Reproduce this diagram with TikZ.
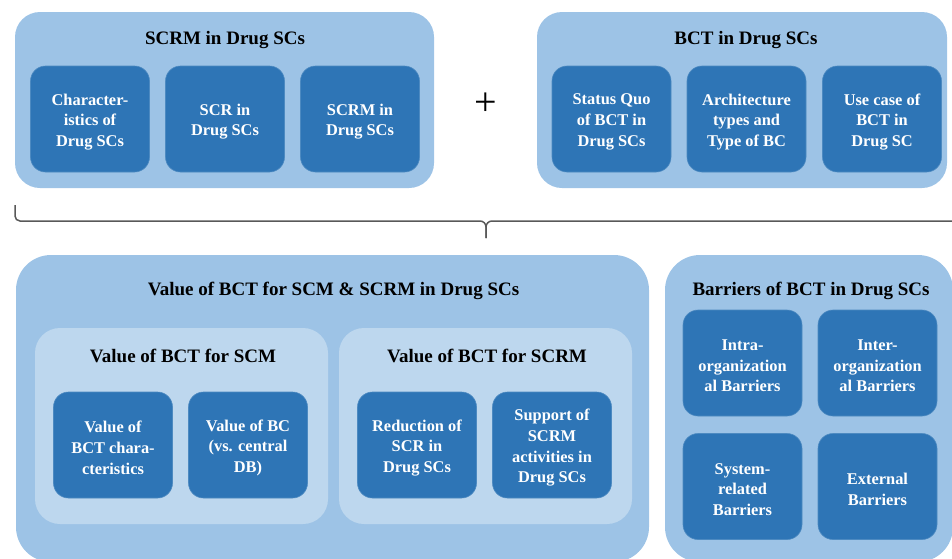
\documentclass[tikz,border=0pt]{standalone}
\usepackage{fontspec}
\setmainfont{Liberation Serif}
\definecolor{outerblue}{HTML}{9DC3E6}
\definecolor{innerblue}{HTML}{BDD7EE}
\definecolor{boxblue}{HTML}{2E75B6}
\definecolor{bracegray}{HTML}{595959}
\begin{document}
\begin{tikzpicture}[x=1pt,y=-1pt,
  panel/.style={fill=outerblue, rounded corners=25pt, inner sep=0pt},
  bigpanel/.style={panel, rounded corners=35pt},
  subpanel/.style={fill=innerblue, rounded corners=25pt, inner sep=0pt},
  item/.style={fill=boxblue, draw=boxblue!85!white, line width=0.6pt,
    rounded corners=15pt, inner sep=0pt, minimum width=119pt, minimum height=106pt},
  itemtext/.style={text=white, font=\bfseries\fontsize{16.4}{20.6}\selectfont,
    align=center, inner sep=0pt, yshift=-2.8pt},
  heading/.style={font=\bfseries\fontsize{19}{22}\selectfont, text=black, inner sep=0pt},
  bracket/.style={draw=bracegray, line width=1.5pt}]
\useasboundingbox (0,0) rectangle (952,558);

% --- upper row: the two building blocks ---
\node[panel, minimum width=419pt, minimum height=176pt] (scrm) at (224.5,100) {};
\node[heading] (scrmT) at (225,40) {SCRM in Drug SCs};
\node[item] (t1) at (90,119) {};
\node[itemtext] (t1x) at (t1) {Character-\\istics of\\Drug SCs};
\node[item] (t2) at (225,119) {};
\node[itemtext] (t2x) at (t2) {SCR in\\Drug SCs};
\node[item] (t3) at (360,119) {};
\node[itemtext] (t3x) at (t3) {SCRM in\\Drug SCs};

\node[font=\fontsize{40}{40}\selectfont, inner sep=0pt] (plus) at (486,104) {+};

\node[panel, minimum width=410pt, minimum height=176pt] (bct) at (742,100) {};
\node[heading] (bctT) at (746,40) {BCT in Drug SCs};
\node[item] (r1) at (611.5,119) {};
\node[itemtext] (r1x) at (r1) {Status Quo\\of BCT in\\Drug SCs};
\node[item] (r2) at (746.5,119) {};
\node[itemtext] (r2x) at (r2) {Architecture\\types and\\Type of BC};
\node[item] (r3) at (882,119) {};
\node[itemtext] (r3x) at (r3) {Use case of\\BCT in\\Drug SC};

% --- brace joining both blocks ---
\coordinate (bl) at (15,205);
\coordinate (bm) at (486,238);
\coordinate (br) at (953,221);
\draw[bracket, line join=round] (bl) -- (15,216) to[out=-90,in=180] (20,221) -- (480,221)
  to[out=0,in=90] (486,227) -- (bm);
\draw[bracket, line join=round] (bm) -- (486,227) to[out=90,in=180] (492,221) -- (br);

% --- lower row: value of BCT ---
\node[bigpanel, minimum width=633pt, minimum height=307pt] (value) at (332.5,408.5) {};
\node[heading] (valueT) at (333.5,290.5) {Value of BCT for SCM \& SCRM in Drug SCs};

\node[subpanel, minimum width=293pt, minimum height=196pt] (scm) at (181.5,426) {};
\node[heading] (scmT) at (183,356) {Value of BCT for SCM};
\node[item] (v1) at (113,445) {};
\node[itemtext] (v1x) at (v1) {Value of\\BCT chara-\\cteristics};
\node[item] (v2) at (248,445) {};
\node[itemtext] (v2x) at (v2) {Value of BC\\(vs. central\\DB)};

\node[subpanel, minimum width=293pt, minimum height=196pt] (scrmv) at (485.5,426) {};
\node[heading] (scrmvT) at (487,356) {Value of BCT for SCRM};
\node[item] (v3) at (417,445) {};
\node[itemtext] (v3x) at (v3) {Reduction of\\SCR in\\Drug SCs};
\node[item] (v4) at (552,445) {};
\node[itemtext] (v4x) at (v4) {Support of\\SCRM\\activities in\\Drug SCs};

% --- lower row: barriers ---
\node[bigpanel, minimum width=288pt, minimum height=307pt] (barr) at (809,408.5) {};
\node[heading] (barrT) at (811,290.5) {Barriers of BCT in Drug SCs};
\node[item] (b1) at (742.5,363) {};
\node[itemtext] (b1x) at (b1) {Intra-\\organization\\al Barriers};
\node[item] (b2) at (877.5,363) {};
\node[itemtext] (b2x) at (b2) {Inter-\\organization\\al Barriers};
\node[item] (b3) at (742.5,486.5) {};
\node[itemtext] (b3x) at (b3) {System-\\related\\Barriers};
\node[item] (b4) at (877.5,486.5) {};
\node[itemtext] (b4x) at (b4) {External\\Barriers};
\end{tikzpicture}
\end{document}
